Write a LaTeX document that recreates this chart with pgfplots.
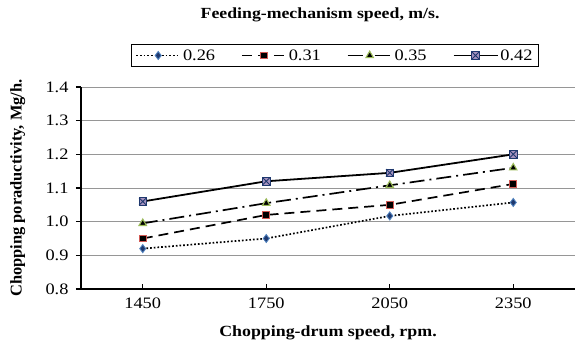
\documentclass[border=0pt]{standalone}
\usepackage{pgfplots}
\pgfplotsset{compat=1.18}
\usepackage{fontspec}
\setmainfont{Liberation Serif}[FakeStretch=1.15]
\newfontfamily\ylabfont{Liberation Serif}
\definecolor{cBlue}{RGB}{79,129,189}
\definecolor{cNavy}{RGB}{31,56,110}
\definecolor{cRed}{RGB}{210,90,85}
\definecolor{cGreen}{RGB}{155,187,89}
\definecolor{cPurple}{RGB}{128,100,162}
\definecolor{cGrid}{RGB}{150,150,150}
\pgfdeclareplotmark{boxx}{%
  \pgfpathrectangle{\pgfpoint{-\pgfplotmarksize}{-\pgfplotmarksize}}{\pgfpoint{2\pgfplotmarksize}{2\pgfplotmarksize}}%
  \pgfusepathqfillstroke
  \pgfpathmoveto{\pgfpoint{-\pgfplotmarksize}{-\pgfplotmarksize}}%
  \pgfpathlineto{\pgfpoint{\pgfplotmarksize}{\pgfplotmarksize}}%
  \pgfpathmoveto{\pgfpoint{-\pgfplotmarksize}{\pgfplotmarksize}}%
  \pgfpathlineto{\pgfpoint{\pgfplotmarksize}{-\pgfplotmarksize}}%
  \pgfusepathqstroke
}
\begin{document}
\begin{tikzpicture}
\begin{axis}[
  name=ax,
  scale only axis,
  width=494bp, height=202bp,
  xmin=-0.5, xmax=3.5,
  ymin=0.8, ymax=1.4,
  xtick={0,1,2,3},
  xticklabels={1450,1750,2050,2350},
  ytick={0.8,0.9,1.0,1.1,1.2,1.3,1.4},
  yticklabel style={/pgf/number format/fixed,/pgf/number format/fixed zerofill,/pgf/number format/precision=1,xshift=-4bp},
  /pgf/number format/assume math mode=true,
  axis x line*=bottom,
  axis y line*=left,
  axis line style={black, line width=1.6pt, -},
  x tick style={black, line width=1.2pt},
  y tick style={black, line width=1.2pt},
  xtick align=inside,
  ytick align=outside,
  major tick length=5bp,
  ymajorgrids,
  grid style={cGrid, line width=1pt},
  tick label style={font=\fontsize{16}{18}\selectfont},
  xticklabel style={yshift=-5bp},
  xlabel={\textbf{Chopping-drum speed, rpm.}},
  ylabel={\ylabfont\bfseries Chopping poraductivity, Mg/h.},
  xlabel style={font=\fontsize{15.6}{17}\selectfont, at={(axis description cs:0.5,-0.218)}, anchor=center},
  ylabel style={font=\fontsize{16.5}{18}\selectfont, at={(axis description cs:-0.128,0.5)}, anchor=center},
  legend columns=4,
  legend style={at={(0.514,1.156)}, anchor=center, draw=black, line width=0.9pt,
    font=\fontsize{16}{18}\selectfont, inner xsep=4bp, inner ysep=3bp,
    /tikz/every even column/.append style={column sep=24bp}},
  legend image code/.code={%
    \draw[mark repeat=2,mark phase=2] plot coordinates {(0bp,0bp) (22bp,0bp) (44bp,0bp)};},
  clip=false,
]
\addplot[black, line width=1.7pt, dotted, mark=diamond*, mark size=4bp,
  mark options={solid, fill=cNavy, draw=cBlue, line width=0.9pt}]
  coordinates {(0,0.92) (1,0.95) (2,1.017) (3,1.057)};
\addlegendentry{0.26}
\addplot[black, line width=1.7pt, dash pattern=on 10bp off 6bp, mark=square*, mark size=3.4bp,
  mark options={solid, fill=black, draw=cRed, line width=1.1pt}]
  coordinates {(0,0.95) (1,1.02) (2,1.05) (3,1.112)};
\addlegendentry{0.31}
\addplot[black, line width=1.7pt, dash pattern=on 15bp off 5bp on 2bp off 5bp, mark=triangle*, mark size=4.3bp,
  mark options={solid, fill=black, draw=cGreen, line width=1.1pt}]
  coordinates {(0,0.995) (1,1.055) (2,1.108) (3,1.16)};
\addlegendentry{0.35}
\addplot[black, line width=1.8pt, solid, mark=boxx, mark size=3.7bp,
  mark options={solid, fill=cPurple!70, draw=cNavy, line width=0.9pt}]
  coordinates {(0,1.06) (1,1.12) (2,1.145) (3,1.20)};
\addlegendentry{0.42}
\node[font=\fontsize{15.5}{17}\selectfont\bfseries] at (rel axis cs:0.484,1.356) {Feeding-mechanism speed, m/s.};
\end{axis}
\pgfresetboundingbox
\path (ax.south west) ++(-81bp,-55bp) rectangle ++(577bp,344bp);
\end{tikzpicture}
\end{document}
